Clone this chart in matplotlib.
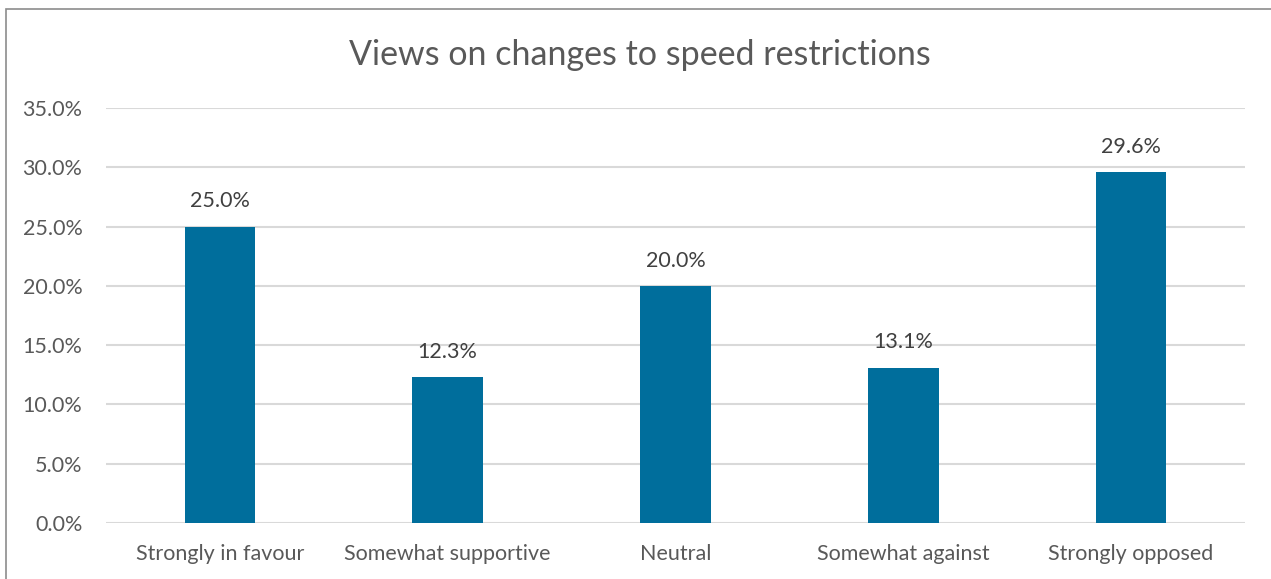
import matplotlib
matplotlib.use("Agg")
import matplotlib.pyplot as plt
from matplotlib.ticker import PercentFormatter, MultipleLocator
from matplotlib.patches import Rectangle

categories = ["Strongly in favour", "Somewhat supportive", "Neutral", "Somewhat against", "Strongly opposed"]
values = [25.0, 12.3, 20.0, 13.1, 29.6]
title = "Views on changes to speed restrictions"

plt.rcParams['font.family'] = ['Lato', 'DejaVu Sans']

fig = plt.figure(figsize=(12.71, 5.79), dpi=100)
fig.patch.set_facecolor('white')

# outer chart border
fig.patches.append(Rectangle((6/1271, -0.05), 1.1, (579-9)/579 + 0.05, transform=fig.transFigure,
                             fill=False, edgecolor='#8c8c8c', linewidth=1.2))

ax = fig.add_axes([106/1271, (579-523)/579, (1245-106)/1271, (523-108)/579])
x = range(len(categories))
bars = ax.bar(x, values, width=0.31, color='#006E9C', zorder=3)
ax.set_xlim(-0.5, len(categories) - 0.5)
ax.set_ylim(0, 35)
ax.yaxis.set_major_locator(MultipleLocator(5))
ax.yaxis.set_major_formatter(PercentFormatter(decimals=1))
ax.grid(axis='y', color='#d9d9d9', linewidth=1.5, zorder=0)
for s in ax.spines.values():
    s.set_visible(False)
ax.tick_params(axis='y', length=0, labelsize=15.5, colors='#595959', pad=17)
ax.tick_params(axis='x', length=0, labelsize=15.5, colors='#595959', pad=15)
ax.set_xticks(list(x))
ax.set_xticklabels(categories)

for xi, v in zip(x, values):
    ax.annotate(f"{v:.1f}%", (xi, v), xytext=(0, 11), textcoords='offset points',
                ha='center', va='bottom', fontsize=15.5, color='#404040')

fig.text(640/1271, 1 - 55/579, title, ha='center', va='center', fontsize=24.5, color='#595959')

fig.savefig('out.png', dpi=100, facecolor='white')
